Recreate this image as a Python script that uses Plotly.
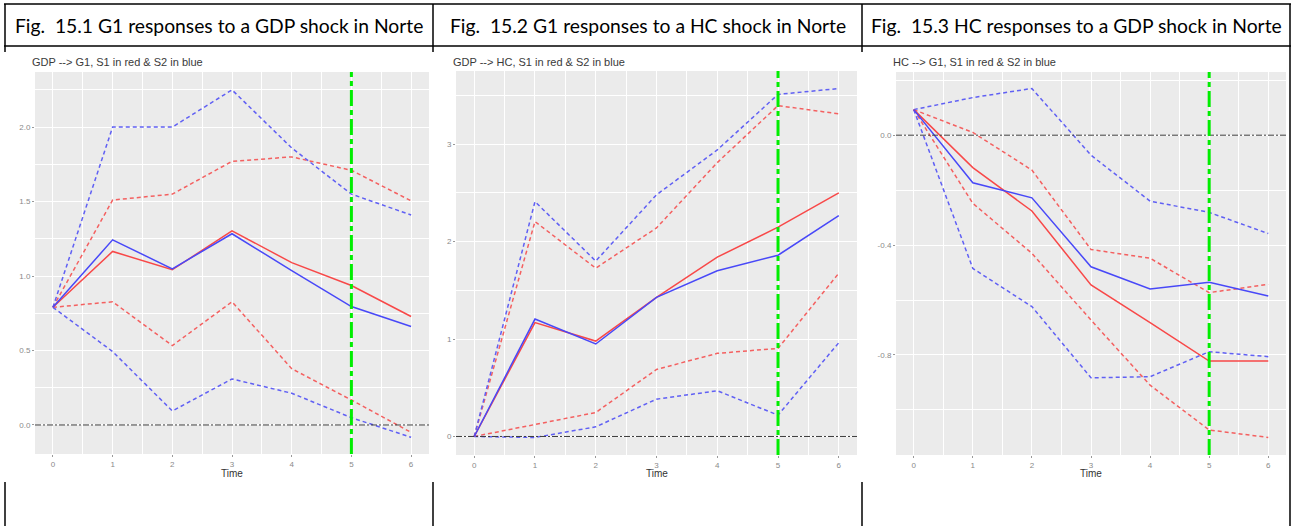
import plotly.graph_objects as go

W, H = 1291, 526

time = [0, 1, 2, 3, 4, 5, 6]

# Fig 15.1  GDP --> G1
c1_s1 = [0.79, 1.165, 1.042, 1.304, 1.09, 0.936, 0.728]
c1_s1_up = [0.79, 1.51, 1.55, 1.77, 1.80, 1.71, 1.505]
c1_s1_lo = [0.79, 0.827, 0.533, 0.827, 0.378, 0.168, -0.05]
c1_s2 = [0.79, 1.243, 1.048, 1.284, 1.037, 0.795, 0.661]
c1_s2_up = [0.79, 2.0, 2.0, 2.25, 1.86, 1.55, 1.41]
c1_s2_lo = [0.79, 0.493, 0.094, 0.309, 0.213, 0.049, -0.083]

# Fig 15.2  GDP --> HC
c2_s1 = [0.0, 1.168, 0.979, 1.428, 1.84, 2.148, 2.50]
c2_s1_up = [0.0, 2.205, 1.727, 2.14, 2.81, 3.395, 3.31]
c2_s1_lo = [0.0, 0.126, 0.246, 0.688, 0.853, 0.904, 1.675]
c2_s2 = [0.0, 1.205, 0.949, 1.428, 1.70, 1.86, 2.267]
c2_s2_up = [0.0, 2.41, 1.80, 2.48, 2.94, 3.51, 3.57]
c2_s2_lo = [0.0, -0.01, 0.099, 0.383, 0.469, 0.219, 0.962]

# Fig 15.3  HC --> G1
c3_s1 = [0.093, -0.118, -0.276, -0.545, -0.682, -0.822, -0.822]
c3_s1_up = [0.093, 0.01, -0.127, -0.416, -0.448, -0.573, -0.543]
c3_s1_lo = [0.093, -0.248, -0.43, -0.673, -0.91, -1.073, -1.10]
c3_s2 = [0.093, -0.173, -0.228, -0.479, -0.56, -0.535, -0.585]
c3_s2_up = [0.093, 0.137, 0.17, -0.073, -0.24, -0.281, -0.358]
c3_s2_lo = [0.093, -0.485, -0.624, -0.883, -0.879, -0.788, -0.806]

headers = ["Fig.\u00a0\u00a015.1 G1 responses to a GDP shock in Norte",
           "Fig.\u00a0\u00a015.2 G1 responses to a HC shock in Norte",
           "Fig.\u00a0\u00a015.3 HC responses to a GDP shock in Norte"]
subtitles = ["GDP --> G1, S1 in red & S2 in blue",
             "GDP --> HC, S1 in red & S2 in blue",
             "HC --> G1, S1 in red & S2 in blue"]

y1_ticks = [0.0, 0.5, 1.0, 1.5, 2.0]
y1_labels = ["0.0", "0.5", "1.0", "1.5", "2.0"]
y2_ticks = [0, 1, 2, 3]
y2_labels = ["0", "1", "2", "3"]
y3_ticks = [-0.8, -0.4, 0.0]
y3_labels = ["-0.8", "-0.4", "0.0"]

charts = [
    dict(data=[c1_s1, c1_s1_up, c1_s1_lo, c1_s2, c1_s2_up, c1_s2_lo],
         px=(35, 429), py=(72, 454), yr=[-0.195, 2.37],
         yt=y1_ticks, yl=y1_labels, ydt=0.5, y0=-0.25),
    dict(data=[c2_s1, c2_s1_up, c2_s1_lo, c2_s2, c2_s2_up, c2_s2_lo],
         px=(456, 857), py=(71, 455), yr=[-0.19, 3.75],
         yt=y2_ticks, yl=y2_labels, ydt=1.0, y0=-0.5),
    dict(data=[c3_s1, c3_s1_up, c3_s1_lo, c3_s2, c3_s2_up, c3_s2_lo],
         px=(896, 1286), py=(72, 455), yr=[-1.164, 0.23],
         yt=y3_ticks, yl=y3_labels, ydt=0.4, y0=-1.4),
]

RED = "rgb(248,72,72)"
BLUE = "rgb(72,72,248)"
RED_D = "rgb(244,96,96)"
BLUE_D = "rgb(96,96,244)"

fig = go.Figure()


def xp(p):
    return p / W


def yp(p):
    return 1 - p / H


TICKFONT = dict(family="Liberation Sans", size=8, color="#8a8a8a")

shapes = []
annotations = []
for i, ch in enumerate(charts):
    n = "" if i == 0 else str(i + 1)
    xa, ya = "x" + n, "y" + n
    s1, s1u, s1l, s2, s2u, s2l = ch["data"]
    specs = [(s1u, RED_D, "dash"), (s1l, RED_D, "dash"),
             (s2u, BLUE_D, "dash"), (s2l, BLUE_D, "dash"),
             (s1, RED, "solid"), (s2, BLUE, "solid")]
    for vals, col, dash in specs:
        fig.add_trace(go.Scatter(x=time, y=vals, mode="lines", xaxis=xa, yaxis=ya,
                                 line=dict(color=col, width=1.5, dash=dash if dash == "solid" else "4px,3px"),
                                 showlegend=False, hoverinfo="skip"))
    fig.layout["xaxis" + n] = dict(
        domain=[xp(ch["px"][0]), xp(ch["px"][1])], anchor=ya, range=[-0.3, 6.3],
        tickvals=time, ticktext=[str(t) for t in time], showgrid=True, gridcolor="white",
        gridwidth=1, zeroline=False, showline=False, ticks="outside", ticklen=2,
        tickcolor="#999999", tickfont=TICKFONT, ticklabelstandoff=0,
        minor=dict(showgrid=True, gridcolor="white", gridwidth=0.5, tick0=0.5, dtick=1, ticks=""),
        fixedrange=True)
    fig.layout["yaxis" + n] = dict(
        domain=[yp(ch["py"][1]), yp(ch["py"][0])], anchor=xa, range=ch["yr"],
        tickvals=ch["yt"], ticktext=ch["yl"], showgrid=True, gridcolor="white",
        gridwidth=1, zeroline=False, showline=False, ticks="outside", ticklen=2,
        tickcolor="#999999", tickfont=TICKFONT,
        minor=dict(showgrid=True, gridcolor="white", gridwidth=0.5, tick0=ch["y0"], dtick=ch["ydt"], ticks=""),
        fixedrange=True)
    # panel background
    shapes.append(dict(type="rect", xref=xa + " domain", yref=ya + " domain", x0=0, x1=1, y0=0, y1=1,
                       fillcolor="#EBEBEB", line=dict(width=0), layer="below"))
    # zero line
    shapes.append(dict(type="line", xref=xa + " domain", yref=ya, x0=0, x1=1, y0=0, y1=0,
                       line=dict(color="#3c3c3c", width=1, dash="6px,2px,2px,2px"), layer="above"))
    # green vertical at t=5
    shapes.append(dict(type="line", xref=xa, yref=ya + " domain", x0=5, x1=5, y0=0, y1=1,
                       line=dict(color="#00EE00", width=3, dash="16px,4px,5px,4px"), layer="above"))
    # subtitle
    annotations.append(dict(text=subtitles[i], xref="paper", yref="paper",
                            x=xp(ch["px"][0] - 5), y=yp(62), xanchor="left", yanchor="middle",
                            showarrow=False, font=dict(family="Liberation Sans", size=11, color="#3a3a3a")))
    # axis title
    annotations.append(dict(text="Time", xref="paper", yref="paper",
                            x=xp((ch["px"][0] + ch["px"][1]) / 2), y=yp(473), xanchor="center", yanchor="middle",
                            showarrow=False, font=dict(family="Liberation Sans", size=10, color="#333333")))

# table headers & borders
col_edges = [5, 433, 862, 1290]
for i in range(3):
    annotations.append(dict(text=headers[i], xref="paper", yref="paper",
                            x=xp((col_edges[i] + col_edges[i + 1]) / 2), y=yp(25),
                            xanchor="center", yanchor="middle", showarrow=False,
                            font=dict(family="Lato", size=19.3, color="black")))

LC = dict(color="black", width=1.5)
for yy in (4, 46):
    shapes.append(dict(type="line", xref="paper", yref="paper", x0=xp(4), x1=xp(1291),
                       y0=yp(yy), y1=yp(yy), line=LC))
for xx in col_edges[:3]:
    shapes.append(dict(type="line", xref="paper", yref="paper", x0=xp(xx), x1=xp(xx),
                       y0=yp(4), y1=yp(52), line=LC))
    shapes.append(dict(type="line", xref="paper", yref="paper", x0=xp(xx), x1=xp(xx),
                       y0=yp(482), y1=yp(526), line=LC))
shapes.append(dict(type="line", xref="paper", yref="paper", x0=xp(1290), x1=xp(1290),
                   y0=yp(4), y1=yp(526), line=LC))

fig.update_layout(width=W, height=H, margin=dict(l=0, r=0, t=0, b=0),
                  paper_bgcolor="white", plot_bgcolor="rgba(0,0,0,0)",
                  shapes=shapes, annotations=annotations, showlegend=False)

fig.write_html("out.html", config={"displayModeBar": False})
